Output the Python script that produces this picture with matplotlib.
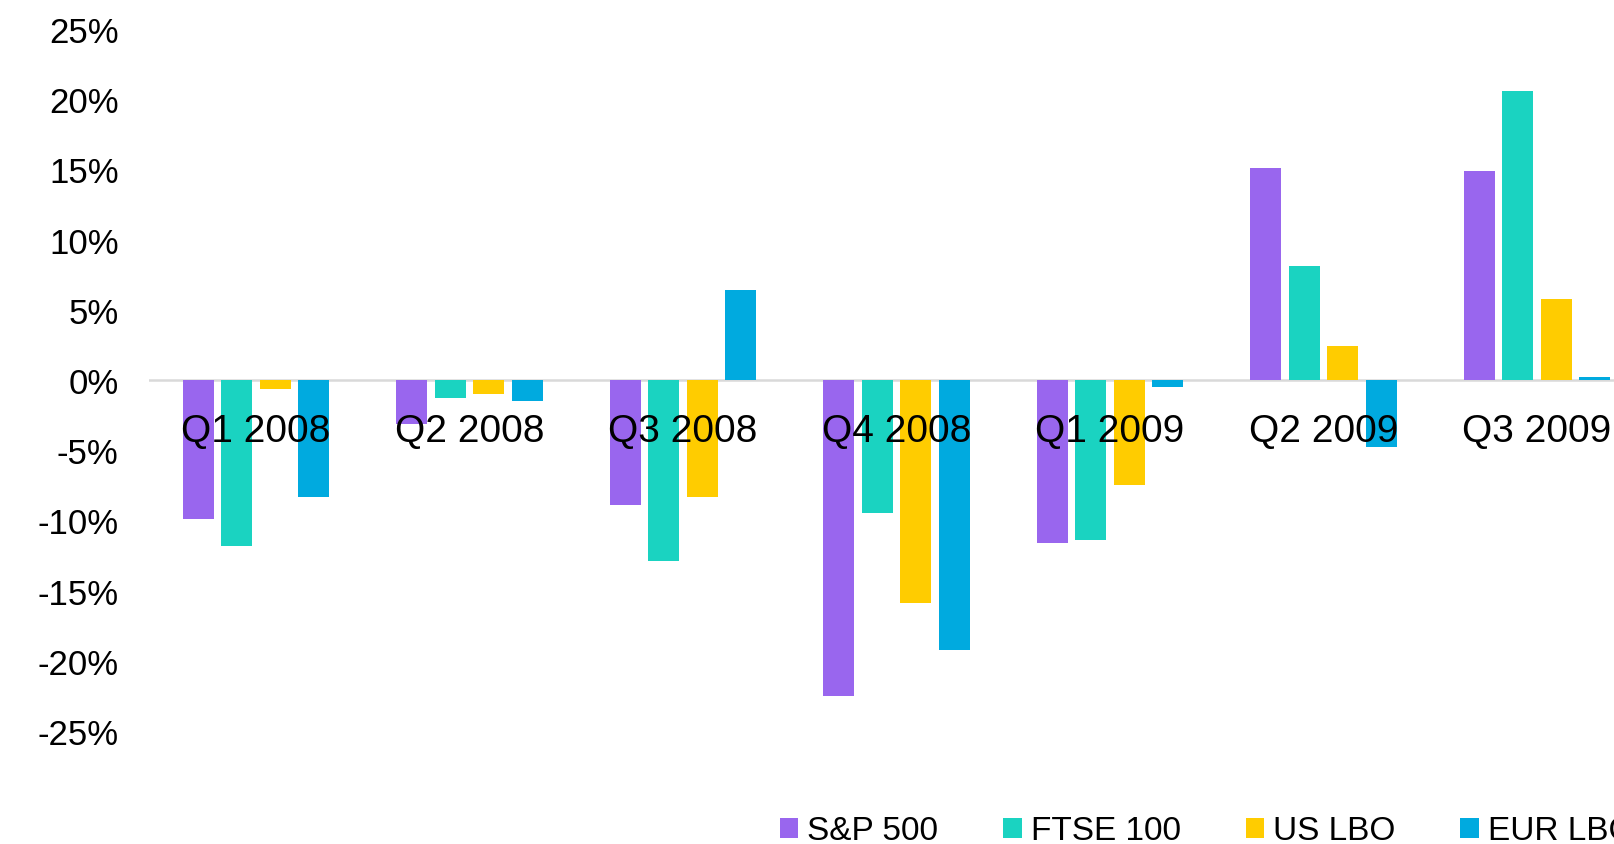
import matplotlib
matplotlib.use("Agg")
import matplotlib.pyplot as plt
import numpy as np
from matplotlib.patches import Patch

categories = ["Q1 2008", "Q2 2008", "Q3 2008", "Q4 2008", "Q1 2009", "Q2 2009", "Q3 2009"]
series_names = ["S&P 500", "FTSE 100", "US LBO", "EUR LBO"]
sp500 = [-9.9, -3.1, -8.9, -22.5, -11.6, 15.1, 14.9]
ftse100 = [-11.8, -1.3, -12.9, -9.5, -11.4, 8.1, 20.6]
us_lbo = [-0.65, -1.0, -8.3, -15.9, -7.5, 2.4, 5.8]
eur_lbo = [-8.3, -1.5, 6.4, -19.2, -0.5, -4.75, 0.2]
ytick_values = [25, 20, 15, 10, 5, 0, -5, -10, -15, -20, -25]

colors = ["#9966EE", "#1AD3C1", "#FFCC00", "#00AADF"]

plt.rcParams['font.family'] = ['Liberation Sans', 'DejaVu Sans']

W, H = 1614, 845
fig = plt.figure(figsize=(W / 100, H / 100), dpi=100)

ax_left = 149.3
px_per_pct = 14.04
zero_y = 381.0
ymin, ymax = -30.0, 27.0
top_px = zero_y - ymax * px_per_pct
bot_px = zero_y - ymin * px_per_pct
ax = fig.add_axes([ax_left / W, 1 - bot_px / H, (W - ax_left) / W, (bot_px - top_px) / H])

x = np.arange(len(categories))
offsets = [-0.27, -0.09, 0.09, 0.27]
width = 0.145
all_series = [sp500, ftse100, us_lbo, eur_lbo]
for vals, off, col, name in zip(all_series, offsets, colors, series_names):
    ax.bar(x + off, vals, width=width, color=col, label=name, zorder=2)

ax.axhline(0, color="#D9D9D9", linewidth=1.8, zorder=1)

group_px = 213.5
ax.set_xlim(-0.5, -0.5 + (W - ax_left) / group_px)
ax.set_ylim(ymin, ymax)

ax.set_yticks(ytick_values)
ax.set_yticklabels([f"{v}%" for v in ytick_values], fontsize=25)
ax.tick_params(axis='y', length=0, pad=22)
ax.set_xticks([])
for s in ax.spines.values():
    s.set_visible(False)

for i, c in enumerate(categories):
    ax.annotate(c, xy=(i, 0), xytext=(0, -44), textcoords='offset points',
                ha='center', va='baseline', fontsize=28, color='black', zorder=3,
                annotation_clip=False)

handles = [Patch(facecolor=c, edgecolor='none') for c in colors]
fig.legend(handles, series_names, loc='center left',
           bbox_to_anchor=(780 / W, 1 - 832 / H), ncol=4, frameon=False,
           fontsize=24, handlelength=0.55, handleheight=0.55,
           handletextpad=0.27, columnspacing=1.95, borderpad=0, borderaxespad=0)

fig.savefig("out.png", dpi=100)
